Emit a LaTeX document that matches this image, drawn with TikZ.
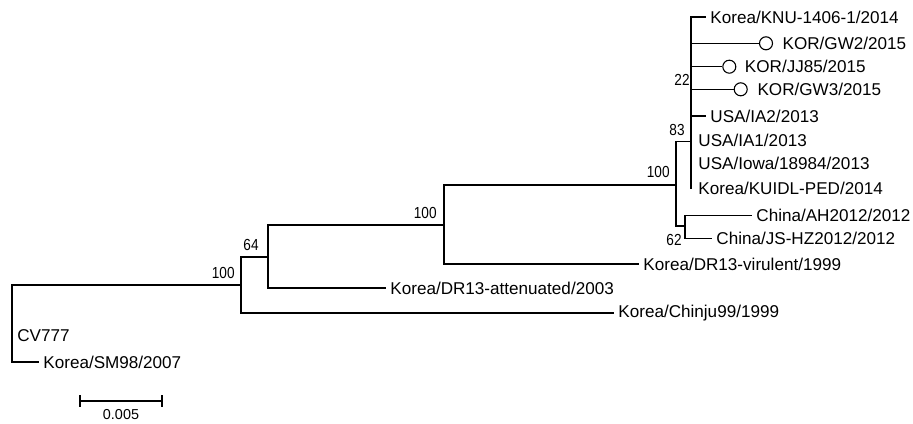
\documentclass[tikz,border=0pt]{standalone}
\usepackage{fontspec}
\setmainfont{Liberation Sans}
\newfontfamily\bootfont[FakeStretch=0.85]{Liberation Sans}
\usetikzlibrary{positioning}

\begin{document}
\begin{tikzpicture}[
        x = 0.5pt, y = -0.5pt,
        branch/.style = {draw, line width=0.65pt},
        leaf/.style = {anchor=west, inner xsep=2pt, inner ysep=0pt, font=\fontsize{8.55}{10}\selectfont},
        boot/.style = {inner sep=0pt, font=\bootfont\fontsize{8}{9}\selectfont},
        ring/.style = {circle, draw, line width=0.55pt, minimum size=6.5pt, inner sep=0pt},
        scalelabel/.style = {inner sep=0pt, font=\fontsize{7.2}{8}\selectfont}
    ]
    \useasboundingbox (0,0) rectangle (913,423);

    % Place nodes
    \coordinate (root) at (12,323.5);
    \coordinate (b1) at (241,285);
    \coordinate (b2) at (268,257);
    \coordinate (b3) at (444,225);
    \coordinate (b4) at (676,185);
    \coordinate (b5) at (691,141.7);
    \coordinate (b6) at (691,92);
    \coordinate (b7) at (685,226);

    \node [leaf] at (706,17) (knu) {Korea/KNU-1406-1/2014};
    \node [ring] at (766,43.3) (gw2c) {};
    \node [leaf, right=2.6pt of gw2c] (gw2) {KOR/GW2/2015};
    \node [ring] at (729.3,66.7) (jj85c) {};
    \node [leaf, right=2.1pt of jj85c] (jj85) {KOR/JJ85/2015};
    \node [ring] at (740.7,89.3) (gw3c) {};
    \node [leaf, right=2.7pt of gw3c] (gw3) {KOR/GW3/2015};
    \node [leaf] at (706,116) (ia2) {USA/IA2/2013};
    \node [leaf] at (694,140) (ia1) {USA/IA1/2013};
    \node [leaf] at (694,163.5) (iowa) {USA/Iowa/18984/2013};
    \node [leaf] at (694,188.5) (kuidl) {Korea/KUIDL-PED/2014};
    \node [leaf] at (752,215.7) (ah) {China/AH2012/2012};
    \node [leaf] at (712,238.3) (jshz) {China/JS-HZ2012/2012};
    \node [leaf] at (639,264) (dr13v) {Korea/DR13-virulent/1999};
    \node [leaf] at (386,288) (dr13a) {Korea/DR13-attenuated/2003};
    \node [leaf] at (614,313) (chinju) {Korea/Chinju99/1999};
    \node [leaf] at (13,336) (cv777) {CV777};
    \node [leaf] at (39,362) (sm98) {Korea/SM98/2007};

    % bootstrap values
    \node [boot, above left=3pt and 3pt of b1] (v1) {100};
    \node [boot, above left=3pt and 4.5pt of b2] (v2) {64};
    \node [boot, above left=3pt and 3.5pt of b3] (v3) {100};
    \node [boot, above left=3.5pt and 3pt of b4] (v4) {100};
    \node [boot, above left=3pt and 3pt of b5] (v5) {83};
    \node [boot, above left=3pt and 0.5pt of b6] (v6) {22};
    \node [boot, below left=4pt and 1.5pt of b7] (v7) {62};

    % Draw edges
    \draw [branch] (root) |- (b1);
    \draw [branch] (root) |- (sm98.west);
    \draw [branch] (b1) |- (b2);
    \draw [branch] (b1) |- (chinju.west);
    \draw [branch] (b2) |- (b3);
    \draw [branch] (b2) |- (dr13a.west);
    \draw [branch] (b3) |- (b4);
    \draw [branch] (b3) |- (dr13v.west);
    \draw [branch] (b4) |- (b5);
    \draw [branch] (b4) |- (b7);
    \draw [branch] (b5) |- (b6);
    \draw [branch] (b5) -- (b5 |- kuidl.west);
    \draw [branch] (b6) |- (knu.west);
    \draw [branch] (b6) |- (gw2c.west);
    \draw [branch] (b6) |- (jj85c.west);
    \draw [branch] (b6) |- (gw3c.west);
    \draw [branch] (b6) |- (ia2.west);
    \draw [branch] (b7) |- (ah.west);
    \draw [branch] (b7) |- (jshz.west);

    % scale bar
    \coordinate (s0) at (80,401);
    \coordinate (s1) at (162,401);
    \draw [branch] (s0) -- node[scalelabel, below=4pt] (sl) {0.005} (s1);
    \draw [branch] ([yshift=3pt]s0) -- ([yshift=-3pt]s0);
    \draw [branch] ([yshift=3pt]s1) -- ([yshift=-3pt]s1);

\end{tikzpicture}
\end{document}
